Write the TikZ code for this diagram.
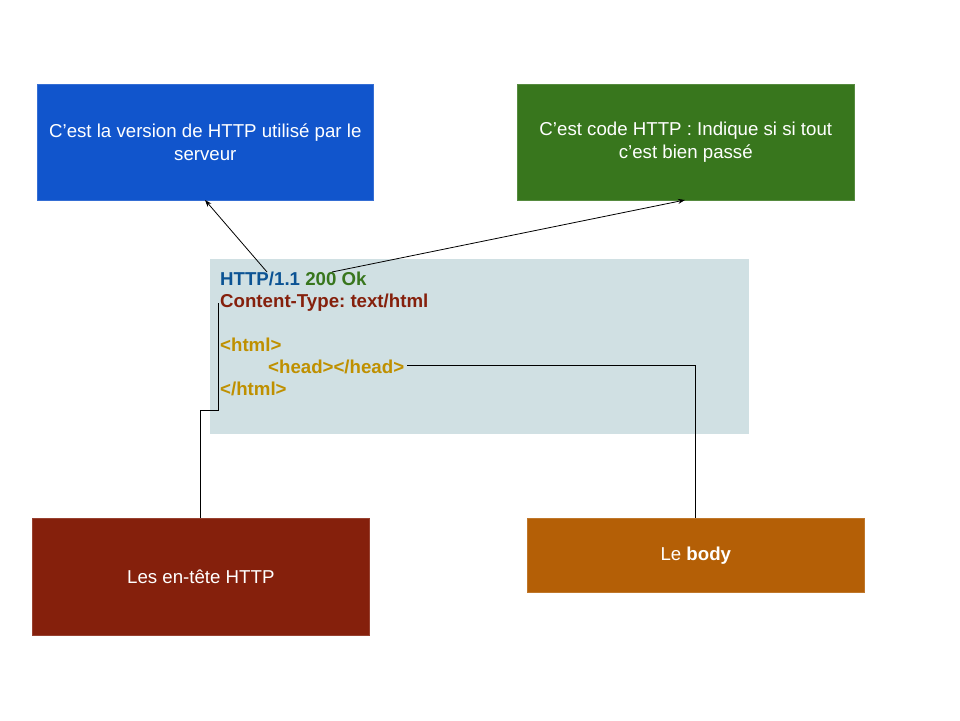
\documentclass[tikz,border=0pt]{standalone}
\usepackage{fontspec}
\setmainfont{Liberation Sans}
\usetikzlibrary{arrows.meta}
\frenchspacing
\definecolor{bluebox}{HTML}{1155CC}
\definecolor{greenbox}{HTML}{38761D}
\definecolor{redbox}{HTML}{85200C}
\definecolor{orangebox}{HTML}{B45F06}
\definecolor{codebox}{HTML}{D0E0E3}
\definecolor{codeblue}{HTML}{0B5394}
\definecolor{codegreen}{HTML}{38761D}
\definecolor{codered}{HTML}{85200C}
\definecolor{codeorange}{HTML}{BF9000}
\begin{document}
\begin{tikzpicture}[x=1pt,y=-1pt,
  every node/.style={font=\fontsize{18.67}{22.5}\selectfont},
  infobox/.style={fill=#1, draw=#1!85!white, line width=0.6pt, anchor=north west,
    inner sep=0pt, align=center, text=white},
  codeline/.style={anchor=base west, inner sep=0pt, font=\fontsize{18.67}{21.5}\selectfont\bfseries},
  conn/.style={draw=black, line width=0.8pt},
  arr/.style={conn, -{Stealth[length=7pt,width=5pt]}}]
\useasboundingbox (0,0) rectangle (960,720);
\fill[white] (0,0) rectangle (960,720);
% boxes
\node[infobox=bluebox, minimum width=336pt, minimum height=116pt] (ver) at (37,84)
  {C’est la version de HTTP utilisé par le\\serveur};
\node[infobox=greenbox, minimum width=337pt, minimum height=116pt] (code) at (517,84)
  {C’est code HTTP : Indique si si tout\\c’est bien passé};
\node[fill=codebox, anchor=north west, minimum width=539pt, minimum height=175pt, inner sep=0pt] (resp) at (210,259) {};
\node[infobox=redbox, minimum width=337pt, minimum height=117pt] (hdr) at (32,518)
  {Les en-tête HTTP};
\node[infobox=orangebox, minimum width=337pt, minimum height=74pt] (body) at (527,518)
  {Le \textbf{body}};
% code text
\node[codeline] (status) at (220,285) {\textcolor{codeblue}{HTTP/1.1} \textcolor{codegreen}{200 Ok}};
\node[codeline, text=codered] (ctype) at (220,307) {Content-Type: text/html};
\node[codeline, text=codeorange] (hopen) at (220,351) {<html>};
\node[codeline, text=codeorange] (head) at (268,373) {<head></head>};
\node[codeline, text=codeorange] (hclose) at (220,395) {</html>};
% connectors
\coordinate (vs) at (267,272);
\coordinate (ve) at (205,200);
\coordinate (cs) at (332,272);
\coordinate (ce) at (685,200);
\coordinate (hs) at (218,303);
\coordinate (hm) at (218,410);
\coordinate (hx) at (200,518);
\coordinate (bs) at (407,365);
\draw[arr] (vs) -- (ve);
\draw[arr] (cs) -- (ce);
\draw[conn] (hs) -- (hm) -| (hx);
\draw[conn] (bs) -| (body.north);
\end{tikzpicture}
\end{document}
